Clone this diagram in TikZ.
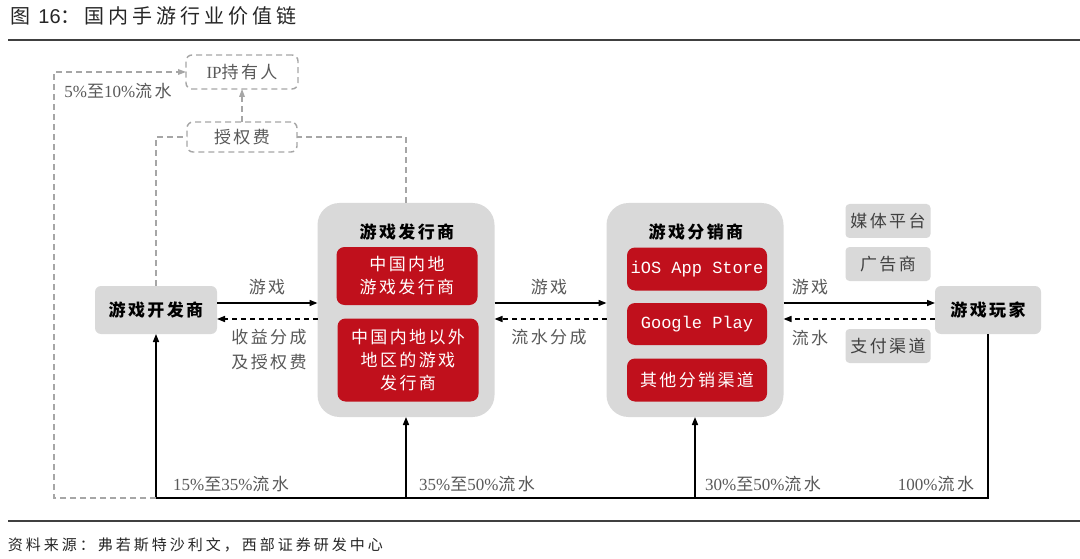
\documentclass[tikz,border=0pt]{standalone}
\usepackage{fontspec}
\setmainfont{Liberation Serif}
\newfontfamily\cjk[LetterSpace=14]{Noto Sans CJK SC}
\newfontfamily\cjkwide[LetterSpace=20]{Noto Sans CJK SC}
\newfontfamily\latn{Liberation Serif}
\newfontfamily\mono{Liberation Mono}
\newcommand\lt[1]{{\latn #1}}
\usetikzlibrary{arrows.meta}
\definecolor{boxgray}{HTML}{D9D9D9}
\definecolor{redbox}{HTML}{C0101C}
\definecolor{txtgray}{HTML}{595959}
\definecolor{dashgray}{HTML}{A6A6A6}
\definecolor{rulegray}{HTML}{404040}
\definecolor{darktxt}{HTML}{262626}
\begin{document}
\begin{tikzpicture}[x=1pt,y=-1pt,
  every node/.style={inner sep=0pt, outer sep=0pt},
  mainfont/.style={font=\cjk\fontsize{17}{20}\selectfont},
  graybox/.style={fill=boxgray, rounded corners=6pt, mainfont, text=black},
  bigbox/.style={fill=boxgray, rounded corners=22pt},
  redb/.style={fill=redbox, rounded corners=8pt, mainfont, text=white, align=center},
  sidebox/.style={fill=boxgray, rounded corners=4pt, mainfont, text=rulegray, minimum width=85pt, minimum height=34pt},
  dashbox/.style={draw=dashgray, dashed, dash pattern=on 6pt off 4pt, line width=1.4pt, rounded corners=6pt, mainfont, text=txtgray},
  lbl/.style={mainfont, text=txtgray, align=center},
  flow/.style={line width=1.5pt, -{Triangle[length=8pt,width=6pt]}},
  backflow/.style={line width=1.5pt, dash pattern=on 5pt off 4pt, -{Triangle[length=8pt,width=6pt]}},
  grayflow/.style={draw=dashgray, line width=1.4pt, dash pattern=on 6pt off 4pt},
  bline/.style={line width=1.5pt}
]
\useasboundingbox (0,0) rectangle (1080,559);
\fill[white] (0,0) rectangle (1080,559);

% title and rules
\node[anchor=west, font=\cjkwide\fontsize{20}{24}\selectfont, text=darktxt] (title) at (10,16) {图 {\fontspec{Liberation Sans}16}：国内手游行业价值链};
\draw[rulegray, line width=2pt] (8,40) coordinate (r1a) -- (1080,40) coordinate (r1b);
\draw[rulegray, line width=2pt] (8,521) coordinate (r2a) -- (1080,521) coordinate (r2b);
\node[anchor=west, font=\cjkwide\fontsize{15}{18}\selectfont, text=darktxt] (src) at (8,545) {资料来源：弗若斯特沙利文，西部证券研发中心};

% top dashed boxes
\node[dashbox, minimum width=112pt, minimum height=34pt] (ip) at (242,72) {\lt{IP}持有人};
\node[dashbox, minimum width=110pt, minimum height=30pt] (fee) at (242,137) {授权费};

% main boxes
\node[graybox, minimum width=122pt, minimum height=48pt, font=\cjk\fontsize{17}{20}\selectfont\bfseries] (dev) at (156,310) {游戏开发商};
\node[bigbox, minimum width=177pt, minimum height=214pt] (pub) at (406,310) {};
\node[mainfont, font=\cjk\fontsize{17}{20}\selectfont\bfseries] (pubt) at (407,232) {游戏发行商};
\node[redb, minimum width=141pt, minimum height=58pt] (red1) at (407,276) {中国内地\\[3pt]游戏发行商};
\node[redb, minimum width=141pt, minimum height=83pt] (red2) at (408,360) {中国内地以外\\[3pt]地区的游戏\\[3pt]发行商};

\node[bigbox, minimum width=177pt, minimum height=214pt] (dist) at (695,310) {};
\node[mainfont, font=\cjk\fontsize{17}{20}\selectfont\bfseries] (distt) at (696,232) {游戏分销商};
\node[redb, minimum width=140pt, minimum height=43pt] (ios) at (697,269) {\mono iOS App Store};
\node[redb, minimum width=140pt, minimum height=42pt] (gp) at (697,324) {\mono Google Play};
\node[redb, minimum width=140pt, minimum height=43pt] (oth) at (697,380) {其他分销渠道};

\node[graybox, minimum width=106pt, minimum height=48pt, font=\cjk\fontsize{17}{20}\selectfont\bfseries] (player) at (988,310) {游戏玩家};

\node[sidebox] (media) at (888,221) {媒体平台};
\node[sidebox] (ads) at (888,264) {广告商};
\node[sidebox] (pay) at (888,346) {支付渠道};

% horizontal flows
\draw[flow] ([yshift=7pt]dev.east) -- ([yshift=7pt]dev.east -| pub.west);
\draw[backflow] ([yshift=-9pt]pub.west) -- ([yshift=-9pt]pub.west -| dev.east);
\draw[flow] ([yshift=7pt]pub.east) -- ([yshift=7pt]pub.east -| dist.west);
\draw[backflow] ([yshift=-9pt]dist.west) -- ([yshift=-9pt]dist.west -| pub.east);
\draw[flow] ([yshift=7pt]dist.east) -- ([yshift=7pt]dist.east -| player.west);
\draw[backflow] ([yshift=-9pt]player.west) -- ([yshift=-9pt]player.west -| dist.east);

\node[lbl] (l1) at (267,287) {游戏};
\node[lbl] (l2) at (269,350) {收益分成\\[5pt]及授权费};
\node[lbl] (l3) at (549,287) {游戏};
\node[lbl] (l4) at (549,337) {流水分成};
\node[lbl] (l5) at (810,287) {游戏};
\node[lbl] (l6) at (810,338) {流水};

% bottom flows
\coordinate (jL) at (dev.south |- 0,498);
\coordinate (jR) at (player.south |- 0,498);
\coordinate (cL) at (54,498);
\draw[bline] (player.south) -- (jR) -- (jL);
\draw[flow] (jL) -- (dev.south);
\draw[flow] (pub.south |- jL) -- (pub.south);
\draw[flow] (dist.south |- jL) -- (dist.south);

\node[lbl] (b1) at (231,484) {\lt{15\%}至\lt{35\%}流水};
\node[lbl] (b2) at (477,484) {\lt{35\%}至\lt{50\%}流水};
\node[lbl] (b3) at (763,484) {\lt{30\%}至\lt{50\%}流水};
\node[lbl] (b4) at (936,484) {\lt{100\%}流水};

% grey dashed license/IP flows
\draw[grayflow] (jL) -- (cL) |- (ip.west);
\fill[dashgray] (ip.west) -- ++(-8,-3) -- ++(0,6) -- cycle;
\draw[grayflow] (dev.north) |- (fee.west);
\draw[grayflow] (pub.north) |- (fee.east);
\draw[grayflow] (fee.north) -- ([yshift=-8pt]ip.south);
\fill[dashgray] (ip.south) -- ++(-3,8) -- ++(6,0) -- cycle;
\node[lbl] (ipl) at (118,91) {\lt{5\%}至\lt{10\%}流水};
\end{tikzpicture}
\end{document}
